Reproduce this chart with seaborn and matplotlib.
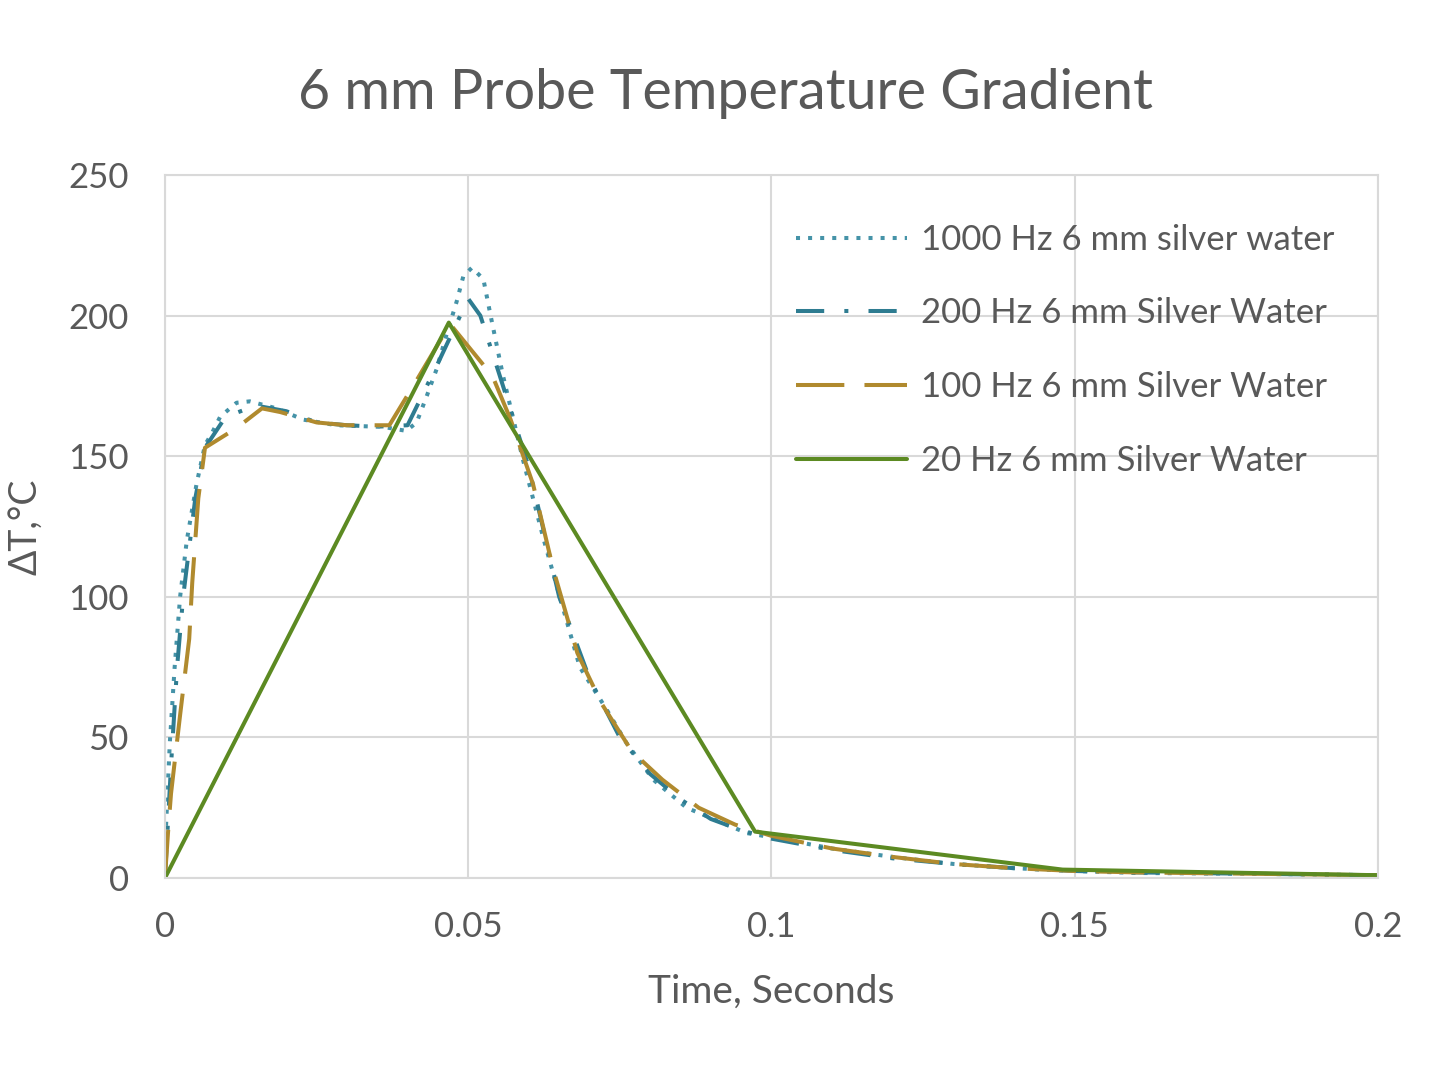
import pandas as pd
import matplotlib
matplotlib.use("Agg")
import matplotlib.pyplot as plt
import seaborn as sns

# series data
t_1000 = [0, 0.0008, 0.0016, 0.0025, 0.0036, 0.0052, 0.0066, 0.0077, 0.0091, 0.0118,
          0.014, 0.0184, 0.0228, 0.0283, 0.036, 0.0398, 0.0415, 0.0431, 0.0448, 0.0464,
          0.0481, 0.0492, 0.0506, 0.0525, 0.0536, 0.0557, 0.059, 0.0625, 0.0651, 0.0684,
          0.0728, 0.0761, 0.0805, 0.086, 0.0915, 0.0959, 0.1014, 0.11, 0.12, 0.13, 0.14,
          0.15, 0.16, 0.18, 0.2]
dT_1000 = [10, 48, 75, 100, 120, 140, 154, 158, 164, 169,
           169.5, 167, 163, 161, 160.4, 159, 162, 171, 181, 193,
           205, 214, 217, 213, 201, 179, 149, 120, 100, 75,
           60, 48, 35, 25, 20, 16, 14, 10.5, 7.5, 5, 3.5,
           2.5, 1.8, 1.5, 1]

t_200 = [0, 0.001, 0.002, 0.003, 0.005, 0.0066, 0.01, 0.015, 0.02, 0.025, 0.03, 0.035,
         0.04, 0.045, 0.05, 0.052, 0.055, 0.06, 0.065, 0.07, 0.075, 0.08, 0.085, 0.09,
         0.095, 0.1, 0.11, 0.12, 0.13, 0.14, 0.15, 0.16, 0.18, 0.2]
dT_200 = [0, 40, 75, 100, 135, 153, 164, 168, 166, 162, 161, 160.5,
          161, 183, 206, 200, 180, 146, 100, 71, 50, 37, 28, 21,
          17, 14, 10, 7, 5, 3.5, 2.5, 2, 1.5, 1]

t_100 = [0, 0.0005, 0.001, 0.0025, 0.004, 0.0045, 0.0055, 0.0066, 0.0118, 0.016, 0.019,
         0.025, 0.03, 0.037, 0.0415, 0.047, 0.054, 0.057, 0.0607, 0.064, 0.068, 0.072,
         0.077, 0.082, 0.088, 0.094, 0.1, 0.11, 0.12, 0.13, 0.14, 0.15, 0.16, 0.18, 0.2]
dT_100 = [0, 16, 30, 58, 85, 105, 135, 153, 160, 167, 165.7,
          162, 161, 161, 177, 197, 178.5, 163, 140, 110, 80, 62,
          45, 35, 25, 19, 15, 10.5, 7.5, 5, 3.5, 2.5, 2, 1.5, 1]

t_20 = [0, 0.0468, 0.0973, 0.148, 0.2]
dT_20 = [0, 197.5, 16.5, 3, 1]

labels = ["1000 Hz 6 mm silver water", "200 Hz 6 mm Silver Water",
          "100 Hz 6 mm Silver Water", "20 Hz 6 mm Silver Water"]

frames = []
for lab, t, d in zip(labels, [t_1000, t_200, t_100, t_20], [dT_1000, dT_200, dT_100, dT_20]):
    frames.append(pd.DataFrame({"t": t, "dT": d, "series": lab}))
df = pd.concat(frames, ignore_index=True)

palette = {labels[0]: "#4593A8", labels[1]: "#2E7C91", labels[2]: "#B08A2E", labels[3]: "#5C8A22"}
dashes = {labels[0]: (1, 2), labels[1]: (7, 5, 1, 5), labels[2]: (12, 5), labels[3]: ""}

sns.set_style("whitegrid")
plt.rcParams["font.family"] = ["Lato", "DejaVu Sans"]
txt = "#595959"

fig = plt.figure(figsize=(14.52, 10.78), dpi=100)
ax = fig.add_axes([0.1136, 0.1855, 0.8354, 0.6522])

sns.lineplot(data=df, x="t", y="dT", hue="series", style="series",
             hue_order=labels, style_order=labels, palette=palette, dashes=dashes,
             estimator=None, sort=False, linewidth=2.9, ax=ax)

ax.set_xlim(0, 0.2)
ax.set_ylim(0, 250)
ax.set_xticks([0, 0.05, 0.1, 0.15, 0.2])
ax.set_xticklabels(["0", "0.05", "0.1", "0.15", "0.2"])
ax.set_yticks([0, 50, 100, 150, 200, 250])
ax.grid(color="#D9D9D9", linewidth=1.5)
for s in ax.spines.values():
    s.set_color("#D9D9D9")
    s.set_linewidth(1.5)
ax.tick_params(axis="both", length=0, labelsize=25, colors=txt)
ax.tick_params(axis="y", pad=26)
ax.tick_params(axis="x", pad=24)

ax.set_xlabel("Time, Seconds", fontsize=28, color=txt, labelpad=22)
ax.set_ylabel("ΔT,°C", fontsize=27, color=txt, labelpad=18)
fig.suptitle("6 mm Probe Temperature Gradient", fontsize=40, color=txt, y=0.937)

leg = ax.legend(loc="upper right", bbox_to_anchor=(0.99, 0.975), frameon=False,
                fontsize=25, handlelength=3.2, labelspacing=1.2, handletextpad=0.4)
for txt_obj in leg.get_texts():
    txt_obj.set_color(txt)

fig.savefig("out.png", dpi=100, facecolor="white")
